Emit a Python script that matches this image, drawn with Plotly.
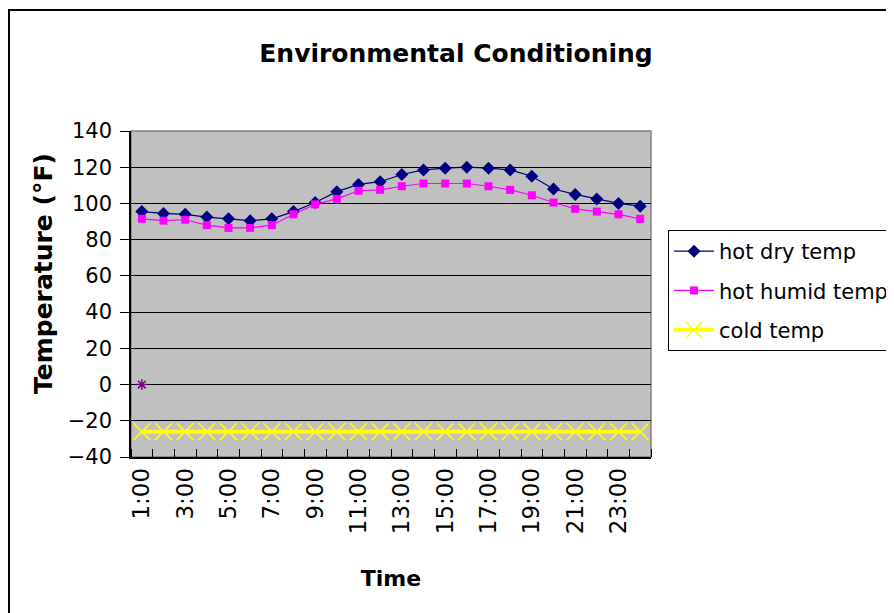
import plotly.graph_objects as go

hours = ["1:00", "2:00", "3:00", "4:00", "5:00", "6:00", "7:00", "8:00", "9:00", "10:00",
         "11:00", "12:00", "13:00", "14:00", "15:00", "16:00", "17:00", "18:00", "19:00",
         "20:00", "21:00", "22:00", "23:00", "24:00"]
hot_dry = [95.5, 94.5, 94, 92.5, 91.5, 90.5, 91.5, 95.5, 100.5, 106.5, 110.5, 112,
           116, 118.5, 119.5, 120, 119.5, 118.5, 115, 108, 105, 102.5, 100, 98.5]
hot_humid = [91.5, 90.5, 91, 88, 86.5, 86.5, 88, 94, 99.5, 102.5, 107, 107.5,
             109.5, 111, 111, 111, 109.5, 107.5, 104.5, 100.5, 97, 95.5, 94, 91.5]
cold_temp = [-26, -26, -26, -26, -26, -26, -26, -26, -26, -26, -26, -26,
             -26, -26, -26, -26, -26, -26, -26, -26, -26, -26, -26, -26]
extra_hours = ["1:00"]
extra_vals = [0]
y_ticks = [-40, -20, 0, 20, 40, 60, 80, 100, 120, 140]

pos = {h: i for i, h in enumerate(hours)}
xs = [pos[h] for h in hours]
label_idx = list(range(0, len(hours), 2))

FONT = "DejaVu Sans, Arial, sans-serif"

fig = go.Figure()
fig.add_trace(go.Scatter(
    x=xs, y=hot_dry, name="hot dry temp", mode="lines+markers", legendgroup="a",
    line=dict(color="#000080", width=1.2),
    marker=dict(symbol="diamond", size=10, color="#000080")))
fig.add_trace(go.Scatter(
    x=xs, y=hot_humid, name="hot humid temp", mode="lines+markers", legendgroup="b",
    line=dict(color="#FF00FF", width=1.2),
    marker=dict(symbol="square", size=8, color="#FF00FF")))
fig.add_trace(go.Scatter(
    x=xs, y=cold_temp, name="cold temp", mode="lines+markers", legendgroup="c",
    line=dict(color="#FFFF00", width=4),
    marker=dict(symbol="x-thin-open", size=17, color="#FFFF00",
                line=dict(color="#FFFF00", width=1.5))))
fig.add_trace(go.Scatter(
    x=[pos[h] for h in extra_hours], y=extra_vals, name="series4", mode="markers",
    showlegend=False,
    marker=dict(symbol="asterisk-open", size=9, color="#800080",
                line=dict(color="#800080", width=1.5))))

L, R, T, B = 123, 251, 123, 164
W, H = 894, 613
pw, ph = W - L - R, H - T - B

fig.update_layout(
    width=W, height=H,
    margin=dict(l=L, r=R, t=T, b=B, autoexpand=False),
    paper_bgcolor="white", plot_bgcolor="#C0C0C0",
    font=dict(family=FONT, color="black", size=20),
    title=dict(text="Environmental Conditioning", x=448 / W, xanchor="center",
               y=1 - 45 / H, yanchor="middle",
               font=dict(family=FONT, size=25, weight="bold", color="black")),
    showlegend=True,
    legend=dict(x=(660 - L) / pw, xanchor="left", y=(449 - 222) / ph, yanchor="top",
                bordercolor="black", borderwidth=1, bgcolor="white",
                font=dict(family=FONT, size=21, color="black"),
                tracegroupgap=9, itemwidth=40),
    shapes=[
        dict(type="rect", xref="paper", yref="paper", x0=0, x1=1, y0=0, y1=1,
             line=dict(color="#808080", width=1.5), layer="below"),
        dict(type="rect", xref="paper", yref="paper",
             x0=(1 - L) / pw, x1=(W + 10 - L) / pw, y0=-(B + 10) / ph, y1=(ph + T - 2) / ph,
             line=dict(color="black", width=2)),
    ],
    annotations=[
        dict(text="<b>Temperature (°F)</b>", xref="paper", yref="paper",
             x=(35 - L) / pw, y=(449 - 266) / ph, xanchor="center", yanchor="middle",
             textangle=-90, showarrow=False,
             font=dict(family=FONT, size=25, color="black")),
    ],
)
fig.update_xaxes(
    range=[-0.5, len(hours) - 0.5], tickmode="array",
    tickvals=[xs[i] for i in label_idx], ticktext=[hours[i] for i in label_idx],
    tickangle=-90, ticks="", showgrid=False, zeroline=False,
    showline=True, linecolor="black", linewidth=1.5,
    tickfont=dict(family=FONT, size=23, color="black"),
    minor=dict(tickmode="linear", tick0=0.5, dtick=1, ticks="inside", ticklen=8,
               tickcolor="black", showgrid=False),
    title=dict(text="Time", font=dict(family=FONT, size=22, weight="bold"), standoff=37),
)
fig.update_yaxes(
    range=[-40, 140], tickmode="array", tickvals=y_ticks,
    ticks="outside", ticklen=9, tickcolor="black", ticklabelstandoff=4,
    showgrid=True, gridcolor="black", gridwidth=1, zeroline=False,
    showline=True, linecolor="black", linewidth=1.5,
    tickfont=dict(family=FONT, size=21, color="black"),
)

fig.write_html("out.html")
